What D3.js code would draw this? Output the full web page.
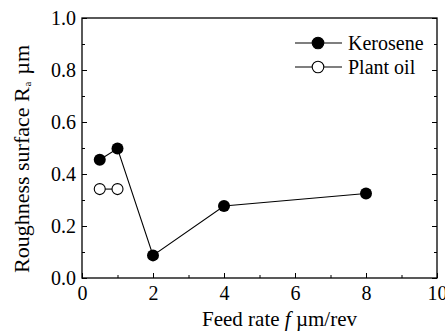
<!DOCTYPE html>
<html>
<head>
<meta charset="utf-8">
<script src="https://cdn.jsdelivr.net/npm/d3@7"></script>
</head>
<body style="margin:0">
<svg id="s" width="445" height="331"></svg>
<script>
// data
const keroseneFeed = [0.5, 1, 2, 4, 8];
const keroseneRa = [0.455, 0.498, 0.087, 0.277, 0.325];
const plantFeed = [0.5, 1];
const plantRa = [0.342, 0.342];
const xTicks = [0, 2, 4, 6, 8, 10];
const yTicks = [0.0, 0.2, 0.4, 0.6, 0.8, 1.0];

const font = size => `${size}px "Times New Roman", "Liberation Serif", Times, serif`;
const margin = {left: 82, right: 8, top: 18, bottom: 53};
const width = 445, height = 331;

const svg = d3.select('#s');

const x = d3.scaleLinear().domain([0, 10]).range([margin.left, width - margin.right]);
const y = d3.scaleLinear().domain([0, 1]).range([height - margin.bottom, margin.top]);

// frame
svg.append('rect')
    .attr('x', x(0)).attr('y', y(1))
    .attr('width', x(10) - x(0)).attr('height', y(0) - y(1))
    .attr('fill', 'none').attr('stroke', '#000').attr('stroke-width', 1.3);

// bottom axis, ticks pointing in
const xMinor = d3.range(0, 10.01, 1);
svg.append('g')
    .attr('transform', `translate(0,${y(0)})`)
    .call(d3.axisBottom(x).tickValues(xMinor).tickSize(-3).tickFormat(''))
    .call(g => g.select('.domain').remove());
svg.append('g')
    .attr('transform', `translate(0,${y(0)})`)
    .call(d3.axisBottom(x).tickValues(xTicks).tickSize(-5).tickPadding(8).tickFormat(d3.format('d')))
    .attr('font-family', null).attr('font-size', null)
    .call(g => g.select('.domain').remove())
    .call(g => g.selectAll('text').attr('dy', '0.71em').style('font', font(20)));

// left axis
const yMinor = d3.range(0, 1.001, 0.1);
svg.append('g')
    .attr('transform', `translate(${x(0)},0)`)
    .call(d3.axisLeft(y).tickValues(yMinor).tickSize(-3).tickFormat(''))
    .call(g => g.select('.domain').remove());
svg.append('g')
    .attr('transform', `translate(${x(0)},0)`)
    .call(d3.axisLeft(y).tickValues(yTicks).tickSize(-5).tickPadding(6).tickFormat(d3.format('.1f')))
    .attr('font-family', null).attr('font-size', null)
    .call(g => g.select('.domain').remove())
    .call(g => g.selectAll('text').style('font', font(20)));

// right axis ticks
svg.append('g')
    .attr('transform', `translate(${x(10)},0)`)
    .call(d3.axisRight(y).tickValues(yMinor).tickSize(-3).tickFormat(''))
    .call(g => g.select('.domain').remove());
svg.append('g')
    .attr('transform', `translate(${x(10)},0)`)
    .call(d3.axisRight(y).tickValues(yTicks).tickSize(-5).tickFormat(''))
    .call(g => g.select('.domain').remove());

// series
const line = d3.line().x(d => x(d[0])).y(d => y(d[1]));
const kero = d3.zip(keroseneFeed, keroseneRa);
const plant = d3.zip(plantFeed, plantRa);

svg.append('path').datum(kero).attr('d', line)
    .attr('fill', 'none').attr('stroke', '#000').attr('stroke-width', 1.1);
svg.append('path').datum(plant).attr('d', line)
    .attr('fill', 'none').attr('stroke', '#000').attr('stroke-width', 1.1);

svg.selectAll('.kero').data(kero).enter().append('circle')
    .attr('cx', d => x(d[0])).attr('cy', d => y(d[1])).attr('r', 6)
    .attr('fill', '#000');
svg.selectAll('.plant').data(plant).enter().append('circle')
    .attr('cx', d => x(d[0])).attr('cy', d => y(d[1])).attr('r', 5.5)
    .attr('fill', '#fff').attr('stroke', '#000').attr('stroke-width', 1.1);

// legend
const legend = [
    {name: 'Kerosene', fill: '#000', y: 43},
    {name: 'Plant oil', fill: '#fff', y: 67}
];
legend.forEach(l => {
    svg.append('line').attr('x1', 295).attr('x2', 342).attr('y1', l.y).attr('y2', l.y)
        .attr('stroke', '#000').attr('stroke-width', 1.1);
    svg.append('circle').attr('cx', 318).attr('cy', l.y).attr('r', 5.8)
        .attr('fill', l.fill).attr('stroke', '#000').attr('stroke-width', 1.1);
    svg.append('text').attr('x', 348).attr('y', l.y + 7)
        .style('font', font(20)).text(l.name);
});

// axis titles
const xt = svg.append('text')
    .attr('x', 202).attr('y', 326)
    .style('font', font(21));
xt.append('tspan').text('Feed rate ');
xt.append('tspan').style('font-style', 'italic').text('f');
xt.append('tspan').text(' \u00b5m/rev');

const yt = svg.append('text')
    .attr('transform', 'translate(29,273) rotate(-90)')
    .style('font', font(22));
yt.append('tspan').text('Roughness surface R');
yt.append('tspan').style('font-size', '10px').attr('dx', 1).attr('dy', 2).text('a');
yt.append('tspan').attr('dx', 7).attr('dy', -2).text('\u00b5m');
</script>
</body>
</html>
